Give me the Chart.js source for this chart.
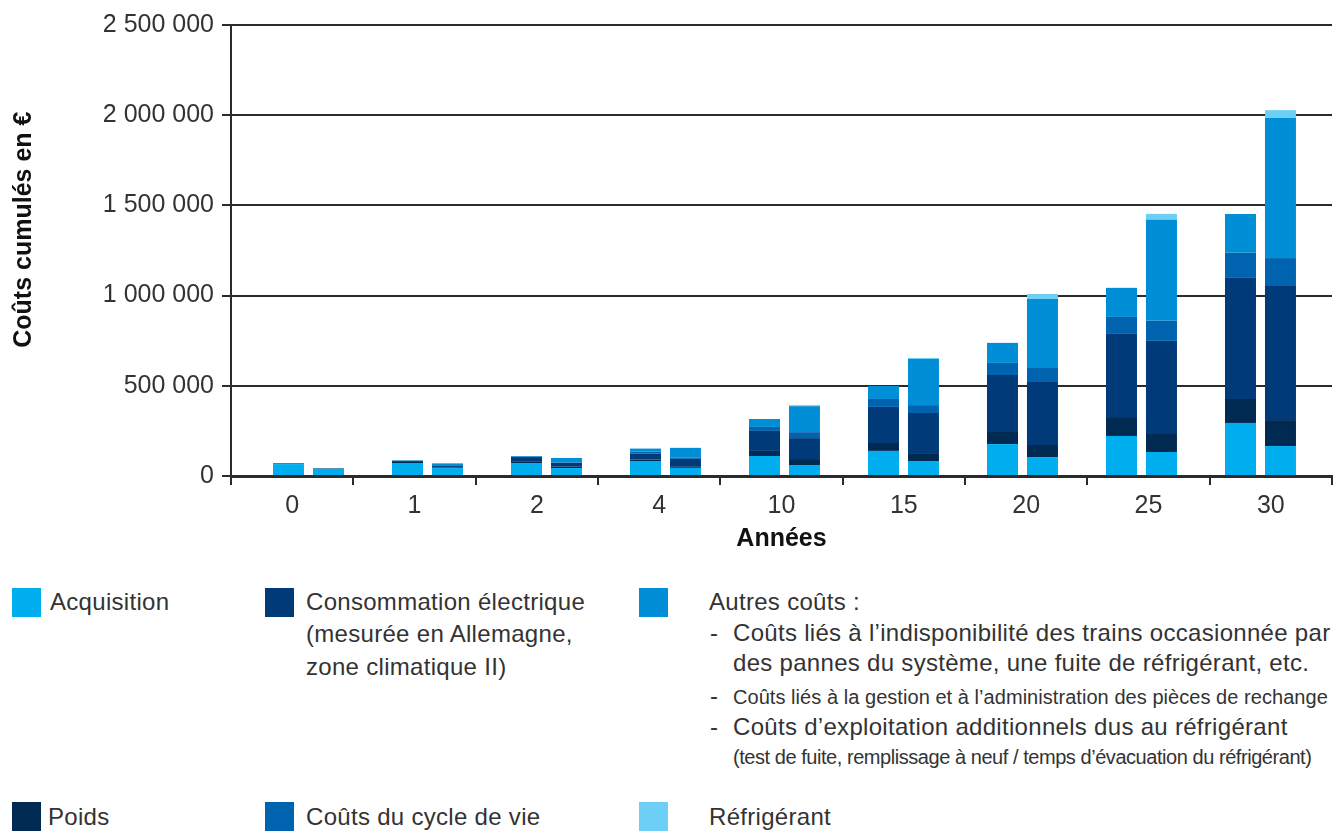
<!DOCTYPE html>
<html lang="fr">
<head>
<meta charset="utf-8">
<title>Coûts cumulés</title>
<script src="https://cdn.jsdelivr.net/npm/chart.js@4.4.1/dist/chart.umd.min.js"></script>
<style>
    body { margin: 0; background: #fff; font-family: "Liberation Sans", Arial, sans-serif; color: #333; overflow: hidden; }
    #chartBox { position: absolute; left: 0; top: 0; width: 1333px; height: 560px; }
    .sw { position: absolute; width: 29px; height: 29px; }
    .lg { position: absolute; white-space: nowrap; font-size: 24px; letter-spacing: 0.3px; line-height: 1; color: #333; }
    .lg.small { font-size: 20px; letter-spacing: 0.05px; }
</style>
</head>
<body>
<div id="chartBox"><canvas id="costChart"></canvas></div>
<div id="legend"></div>
<script>
    // Colors
    const acqColor = '#00AEEF';
    const poidsColor = '#002A52';
    const elecColor = '#003A78';
    const cycleColor = '#0063AF';
    const autresColor = '#008ED6';
    const refrigColor = '#6DCFF6';
    const axisColor = '#2b2b2b';

    const years = ['0', '1', '2', '4', '10', '15', '20', '25', '30'];
    const yTicks = [0, 500000, 1000000, 1500000, 2000000, 2500000];

    // left bar of each pair
    const acquisitionA = [66000, 72000, 72000, 80000, 111000, 139000, 177000, 222000, 294000];
    const poidsA = [4000, 6000, 10000, 11000, 28000, 44000, 67000, 100000, 133000];
    const elecA = [0, 6000, 23000, 33000, 111000, 200000, 316000, 466000, 671000];
    const cycleA = [0, 0, 2000, 11000, 22000, 44000, 67000, 94000, 139000];
    const autresA = [0, 3000, 4000, 17000, 44000, 72000, 111000, 161000, 216000];
    const refrigA = [0, 0, 0, 0, 0, 0, 0, 0, 0];

    // right bar of each pair
    const acquisitionB = [40000, 44000, 44000, 45000, 61000, 83000, 105000, 133000, 166000];
    const poidsB = [3000, 4000, 8000, 6000, 33000, 44000, 67000, 100000, 144000];
    const elecB = [0, 7000, 20000, 44000, 116000, 222000, 349000, 516000, 743000];
    const cycleB = [0, 0, 2000, 6000, 33000, 44000, 78000, 111000, 155000];
    const autresB = [0, 15000, 26000, 55000, 144000, 255000, 382000, 560000, 776000];
    const refrigB = [0, 0, 0, 0, 6000, 6000, 28000, 33000, 44000];

    const fmt = v => String(v).replace(/\B(?=(\d{3})+(?!\d))/g, ' ');
    const pts = arr => arr.map((v, i) => ({ x: i, y: v }));

    const series = [
        ['Acquisition', acqColor, acquisitionA, acquisitionB],
        ['Poids', poidsColor, poidsA, poidsB],
        ['Consommation électrique', elecColor, elecA, elecB],
        ['Coûts du cycle de vie', cycleColor, cycleA, cycleB],
        ['Autres coûts', autresColor, autresA, autresB],
        ['Réfrigérant', refrigColor, refrigA, refrigB]
    ];

    const datasets = [];
    series.forEach(([label, color, a, b]) => {
        datasets.push({ label, data: pts(a), backgroundColor: color, stack: 'A', xAxisID: 'x' });
        datasets.push({ label, data: pts(b), backgroundColor: color, stack: 'B', xAxisID: 'x' });
    });

    const tickFont = { family: "'Liberation Sans', Arial, sans-serif", size: 25 };
    const titleFont = { family: "'Liberation Sans', Arial, sans-serif", size: 25, weight: 'bold' };

    new Chart(document.getElementById('costChart'), {
        type: 'bar',
        data: { datasets },
        options: {
            responsive: true,
            maintainAspectRatio: false,
            animation: false,
            categoryPercentage: 0.672,
            barPercentage: 0.775,
            layout: { padding: { top: 25, right: 1, left: 0, bottom: 0 } },
            plugins: { legend: { display: false }, tooltip: { enabled: false } },
            scales: {
                // hidden axis that places the bar pairs
                x: {
                    type: 'linear',
                    display: false,
                    min: -0.651,
                    max: 8.601,
                    offset: false,
                    stacked: true,
                    afterBuildTicks: s => { s.ticks = years.map((_, i) => ({ value: i })); }
                },
                // visible axis with year labels
                x2: {
                    type: 'category',
                    labels: years,
                    position: 'bottom',
                    offset: true,
                    grid: { offset: true, drawOnChartArea: false, drawTicks: true, tickLength: 9, color: axisColor, lineWidth: 2 },
                    border: { display: true, color: axisColor, width: 3 },
                    ticks: { color: '#333', font: tickFont, padding: 6, maxRotation: 0 },
                    title: { display: true, text: 'Années', color: '#111', font: titleFont, padding: { top: 2, bottom: 6 } },
                    afterFit: s => { s.height = 84; }
                },
                y: {
                    stacked: true,
                    min: 0,
                    max: 2500000,
                    grid: { color: axisColor, lineWidth: 2, tickLength: 9 },
                    border: { display: true, color: axisColor, width: 2 },
                    ticks: {
                        stepSize: 500000,
                        color: '#333',
                        font: tickFont,
                        padding: 8,
                        callback: v => yTicks.includes(v) ? fmt(v) : ''
                    },
                    // leading spaces lift the title a little, as in the original
                    title: { display: true, text: '\u00a0\u00a0\u00a0\u00a0\u00a0\u00a0Coûts cumulés en €', color: '#111', font: titleFont, padding: { top: 9, bottom: 0 } },
                    afterFit: s => { s.width = 231; }
                }
            }
        }
    });

    // Legend below the chart
    const legendItems = [
        { color: acqColor, left: 12, top: 588, textLeft: 50, lines: [['Acquisition', 612]] },
        { color: elecColor, left: 265, top: 588, textLeft: 306, lines: [['Consommation électrique', 612], ['(mesurée en Allemagne,', 644], ['zone climatique II)', 677]] },
        { color: autresColor, left: 639, top: 588, textLeft: 709, lines: [['Autres coûts :', 612]] },
        { color: poidsColor, left: 12, top: 802, textLeft: 48, lines: [['Poids', 827]] },
        { color: cycleColor, left: 265, top: 802, textLeft: 306, lines: [['Coûts du cycle de vie', 827]] },
        { color: refrigColor, left: 639, top: 802, textLeft: 709, lines: [['Réfrigérant', 827]] }
    ];
    // [text, left, baseline, small, letterSpacing]
    const extraLines = [
        ['-', 710, 643, false], ['Coûts liés à l’indisponibilité des trains occasionnée par', 733, 643, false],
        ['des pannes du système, une fuite de réfrigérant, etc.', 733, 673, false],
        ['-', 710, 706, false], ['Coûts liés à la gestion et à l’administration des pièces de rechange', 733, 705, true],
        ['-', 710, 737, false], ['Coûts d’exploitation additionnels dus au réfrigérant', 733, 737, false],
        ['(test de fuite, remplissage à neuf / temps d’évacuation du réfrigérant)', 733, 765, true, '-0.45px']
    ];

    const legendEl = document.getElementById('legend');
    const addLine = (text, left, baseline, small, ls) => {
        const d = document.createElement('div');
        d.className = 'lg' + (small ? ' small' : '');
        d.textContent = text;
        const size = small ? 20 : 24;
        d.style.left = left + 'px';
        d.style.top = (baseline - Math.round(size * 0.9)) + 'px';
        if (ls) d.style.letterSpacing = ls;
        legendEl.appendChild(d);
    };
    legendItems.forEach(item => {
        const sw = document.createElement('div');
        sw.className = 'sw';
        sw.style.left = item.left + 'px';
        sw.style.top = item.top + 'px';
        sw.style.background = item.color;
        legendEl.appendChild(sw);
        item.lines.forEach(([t, b]) => addLine(t, item.textLeft, b, false));
    });
    extraLines.forEach(([t, l, b, s, ls]) => addLine(t, l, b, s, ls));
</script>
</body>
</html>
